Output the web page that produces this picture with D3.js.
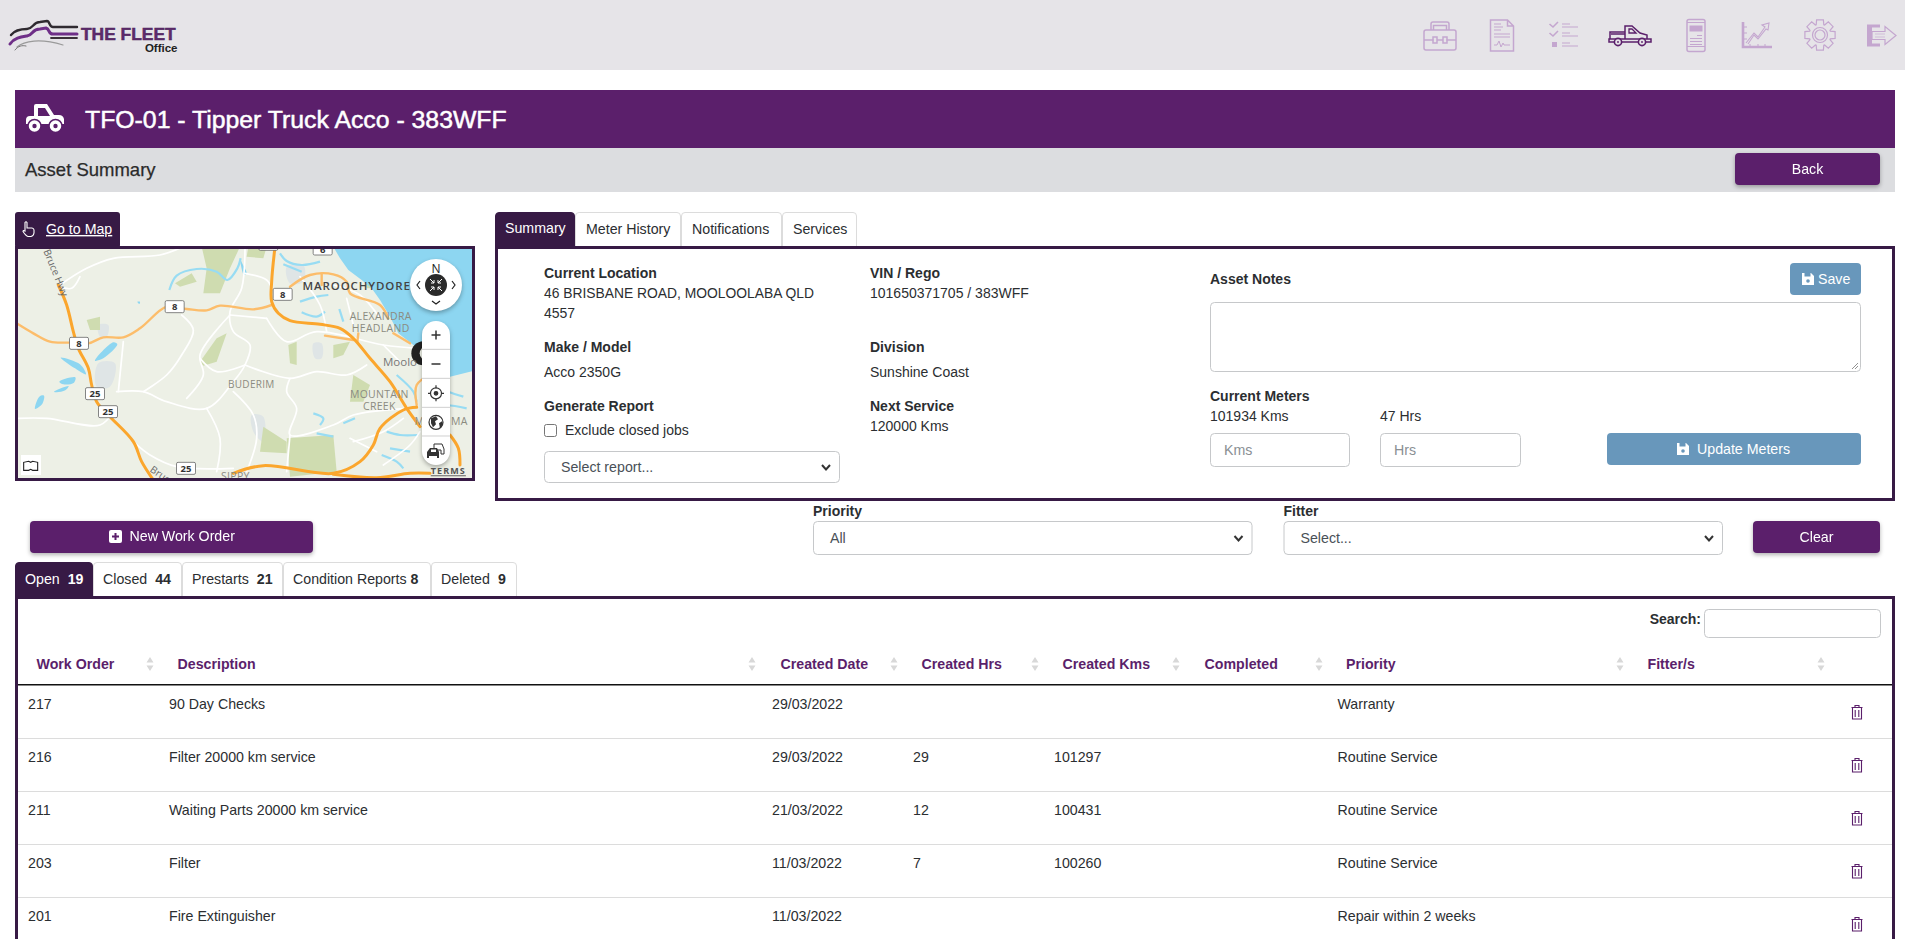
<!DOCTYPE html>
<html>
<head>
<meta charset="utf-8">
<title>The Fleet Office</title>
<script src="https://cdn.jsdelivr.net/npm/d3@7/dist/d3.min.js"></script>
<style>
  html, body { margin: 0; padding: 0; background: #fff; overflow: hidden; }
  svg { display: block; font-family: "Liberation Sans", Arial, sans-serif; }
  .shadow { filter: drop-shadow(0 2px 2px rgba(0,0,0,.3)); }
</style>
</head>
<body>
<svg id="page" width="1905" height="939"></svg>
<script>
// ---- data ----
const assetTitle = 'TFO-01 - Tipper Truck Acco - 383WFF'
const summaryTabs = ['Summary', 'Meter History', 'Notifications', 'Services']
const jobTabs = ['Open', 'Closed', 'Prestarts', 'Condition Reports', 'Deleted']
const jobCounts = [19, 44, 21, 8, 9]
const columns = ['Work Order', 'Description', 'Created Date', 'Created Hrs', 'Created Kms', 'Completed', 'Priority', 'Fitter/s']
const workOrders = ['217', '216', '211', '203', '201']
const descriptions = ['90 Day Checks', 'Filter 20000 km service', 'Waiting Parts 20000 km service', 'Filter', 'Fire Extinguisher']
const createdDates = ['29/03/2022', '29/03/2022', '21/03/2022', '11/03/2022', '11/03/2022']
const createdHrs = ['', '29', '12', '7', '']
const createdKms = ['', '101297', '100431', '100260', '']
const priorities = ['Warranty', 'Routine Service', 'Routine Service', 'Routine Service', 'Repair within 2 weeks']

// map geometry, in map units
const waterArea = [[1000,125],[1020,160],[1045,195],[1085,225],[1115,250],[1140,285],[1170,335],[1195,385],[1240,420],[1300,480],[1350,515],[1420,498],[1420,125]]
const motorways = [
  [[825,125],[815,230],[815,290],[835,325],[870,347],[960,358],[1020,370],[1060,400],[1110,460],[1170,530],[1220,610],[1260,665]],
  [[175,240],[200,300],[220,380],[235,430],[265,490],[275,540],[290,590],[330,635],[400,710],[425,770],[460,825]],
  [[700,805],[790,782],[1000,805],[1080,770],[1120,720],[1140,670],[1210,615],[1250,607]],
  [[1000,808],[1130,818],[1230,805],[1290,805]],
  [[1350,690],[1375,730],[1380,780]]
]
const mainRoads = [
  [[50,355],[100,385],[150,410],[210,413],[265,415],[310,397],[370,397],[420,370],[500,305],[560,312],[620,316],[660,302],[760,313],[815,300]],
  [[870,245],[930,210],[1000,208],[1040,230],[1050,265],[1140,300],[1165,340]],
  [[965,205],[965,240]],
  [[975,392],[1060,405]],
  [[1180,385],[1230,415]],
  [[1250,600],[1250,540],[1290,510]],
  [[1075,385],[1072,410]]
]
const localRoads = [
  [[735,125],[725,250],[690,320],[700,380],[750,420],[735,480],[700,530],[620,610],[500,590],[430,560],[350,560]],
  [[370,410],[355,560]],
  [[690,330],[600,450],[610,510],[560,580]],
  [[700,560],[760,630],[770,700],[740,800]],
  [[735,480],[870,520],[950,500],[1040,510],[1100,480]],
  [[870,520],[860,560],[890,610],[870,690],[1000,660],[1060,630],[1220,610]],
  [[620,610],[660,700],[650,800]],
  [[800,340],[860,410],[950,380],[1150,420],[1250,430]],
  [[180,240],[260,190],[340,160],[480,150],[550,125]],
  [[400,710],[450,750],[530,785],[700,790]],
  [[50,640],[140,640],[300,660],[340,620]],
  [[690,330],[800,340]],
  [[870,690],[860,800]],
  [[1060,710],[1150,680],[1210,640]],
  [[1150,780],[1230,720],[1260,680]],
  [[545,330],[580,375],[545,450],[500,510],[430,560]],
  [[735,205],[800,225],[815,250]],
  [[600,460],[650,500],[735,480]],
  [[900,215],[960,300],[980,380]],
  [[1040,280],[1060,360]],
  [[1000,240],[1080,270],[1140,340]],
  [[1150,420],[1200,470]],
  [[1050,700],[1130,740]],
  [[240,215],[215,250],[180,245]]
]
const parkAreas = [
  [[605,125],[720,125],[690,190],[660,265],[610,265],[620,190]],
  [[745,125],[800,125],[790,160],[740,155]],
  [[780,740],[790,665],[860,710],[860,745]],
  [[860,700],[1000,690],[1010,800],[870,815]],
  [[600,470],[650,400],[680,385],[650,470],[610,482]],
  [[1060,510],[1110,540],[1090,590],[1050,590]],
  [[865,420],[890,410],[890,480],[870,475]],
  [[260,345],[300,335],[300,375],[270,375]],
  [[1090,195],[1130,195],[1145,250],[1100,250]],
  [[1040,125],[1090,160],[1050,185]],
  [[525,235],[575,205],[590,230],[540,245]],
  [[1000,420],[1050,410],[1030,450],[1000,460]]
]
const lakes = [
  [[105,612],[118,575],[132,572],[126,598]],
  [[285,467],[340,412],[352,418],[310,460]],
  [[182,458],[240,478],[258,508],[225,490]],
  [[178,530],[226,517],[222,533],[190,538]],
  [[162,560],[206,543],[196,556],[170,562]],
  [[412,290],[420,290],[418,297]],
  [[720,160],[728,178],[740,205],[732,210]]
]
const waterways = [
  [[508,255],[530,212],[590,192],[650,200],[682,225],[712,190],[722,160]],
  [[840,145],[860,168],[905,180],[960,170]],
  [[850,178],[905,200]],
  [[900,290],[950,275],[985,270]],
  [[905,322],[950,335],[975,320]],
  [[1018,312],[1030,350]],
  [[1190,510],[1240,560],[1250,590]],
  [[1300,540],[1345,560],[1390,575]],
  [[1290,600],[1340,600],[1400,610]],
  [[1160,680],[1200,690],[1255,690]],
  [[1170,730],[1230,740]],
  [[1145,750],[1190,770],[1210,790]],
  [[1030,655],[1065,640]],
  [[950,685],[1000,695]],
  [[940,625],[970,640],[960,660]]
]
const builtAreas = [
  [[860,185],[910,180],[910,230],[870,235]],
  [[295,475],[345,475],[330,545],[290,545]],
  [[755,630],[790,635],[790,710],[760,680]],
  [[295,360],[325,360],[320,395],[300,395]],
  [[940,415],[965,415],[965,460],[945,460]]
]
const roadShields = [['8',524,305],['8',848,268],['8',237,415],['25',285,566],['25',324,620],['25',558,790],['6',968,132],['',805,118]]
const placeNames = [
  ['MAROOCHYDORE',1070,254,11.5,'#444',600,.9],
  ['ALEXANDRA',1142,345,10.5,'#8b8b80',400,.3],
  ['HEADLAND',1142,381,10.5,'#8b8b80',400,.3],
  ['Moolo',1200,484,11.5,'#777',400,0],
  ['BUDERIM',754,549,10,'#8b8b80',400,.3],
  ['MOUNTAIN',1138,578,10.5,'#8b8b80',400,.3],
  ['CREEK',1138,615,10.5,'#8b8b80',400,.3],
  ['MA',1378,660,10.5,'#8b8b80',400,.3],
  ['M',1258,660,10.5,'#8b8b80',400,.3],
  ['SIPPY',706,824,10.5,'#8b8b80',400,.3]
]

// ---- shared ----
const purple = '#5b1f6b'
const darkPurple = '#371a45'
const iconPurple = '#c4a6cf'
const textColor = '#2b2e31'
const fontSize = 14.2
const svg = d3.select('#page')

function box(parent, x, y, w, h, fill, r) {
  return parent.append('rect').attr('x', x).attr('y', y).attr('width', w).attr('height', h)
    .attr('fill', fill).attr('rx', r || 0)
}
function label(parent, str, x, y, size, color, weight, anchor) {
  return parent.append('text').attr('x', x).attr('y', y).attr('dy', '.35em')
    .attr('font-size', size).attr('fill', color || textColor)
    .attr('font-weight', weight || 400).attr('text-anchor', anchor || 'start').text(str)
}
function field(x, y, w, h, hint) {
  box(svg, x + .5, y + .5, w - 1, h - 1, '#fff', 4).attr('stroke', '#c6c8ca')
  if (hint) label(svg, hint, x + 14, y + h / 2, fontSize, '#8a8f94')
}
function chevron(x, y) {
  svg.append('path').attr('d', `M${x - 4},${y - 2}l4,4.5l4,-4.5`).attr('fill', 'none')
    .attr('stroke', '#333').attr('stroke-width', 2)
}
function selectBox(x, y, w, h, text) {
  field(x, y, w, h)
  label(svg, text, x + 17, y + h / 2, fontSize, '#495057')
  chevron(x + w - 14, y + h / 2)
}
function disk(parent, x, y, color) {
  const g = parent.append('g').attr('transform', `translate(${x},${y})`)
  g.append('path').attr('d', 'M-6,-6h9l3,3v9h-12z').attr('fill', color)
  g.append('rect').attr('x', -3.5).attr('y', -6).attr('width', 6).attr('height', 3.5).attr('fill', '#6897bb')
  g.append('circle').attr('cy', 2).attr('r', 1.8).attr('fill', '#6897bb')
}
function button(x, y, w, h, fill, text, shadow) {
  const g = svg.append('g')
  if (shadow) g.attr('class', 'shadow')
  box(g, x, y, w, h, fill, 4)
  label(g, text, x + w / 2, y + h / 2, fontSize, '#fff', 400, 'middle')
  return g
}
function tabStrip(labels, edges, top, bottom, bold) {
  labels.forEach((t, i) => {
    const x0 = edges[i], x1 = edges[i + 1]
    const g = svg.append('g')
    const fill = i == 0 ? darkPurple : '#fff'
    g.append('path').attr('d', `M${x0 + .5},${bottom}V${top + 4}q0,-3.5 3.5,-3.5H${x1 - 4}q3.5,0 3.5,3.5V${bottom}`)
      .attr('fill', fill).attr('stroke', i == 0 ? darkPurple : '#dcdcdc')
    const color = i == 0 ? '#fff' : textColor
    const pad = i == 0 || bold ? 10 : 11
    const mid = (top + bottom) / 2 + (i == 0 && !bold ? -1 : 0)
    const t1 = label(g, t, x0 + pad, mid, fontSize, color)
    if (bold) {
      const w = t1.node().getComputedTextLength()
      label(g, bold[i], x0 + pad + w + (t.length > 10 ? 4 : 8), mid, fontSize, color, 700)
    }
  })
}

// ---- top bar ----
box(svg, 0, 0, 1905, 70, '#e6e4e8')

const defs = svg.append('defs')
defs.append('clipPath').attr('id', 'mapClip').append('rect').attr('x', 18).attr('y', 249).attr('width', 454).attr('height', 229)

const logo = svg.append('g').attr('fill', 'none').attr('stroke-linecap', 'round')
logo.append('path').attr('d', 'M11,35C15,30 20,29 27,29C33,29 33,22 40,22L47,21C50,21 49,27 53,27H77').attr('stroke', '#2f2a30').attr('stroke-width', 2.4)
logo.append('path').attr('d', 'M10,44C14,38 21,37 27,36C33,35 32,29 40,29L46,28C50,29 48,34 53,34H77').attr('stroke', '#6f2f88').attr('stroke-width', 3)
logo.append('path').attr('d', 'M51,38H77').attr('stroke', '#3a3038').attr('stroke-width', 1.8)
logo.append('path').attr('d', 'M17,47C24,41 40,38 63,45').attr('stroke', '#9a9a9a').attr('stroke-width', 1.2)
logo.append('path').attr('d', 'M15,50C18,46 22,45 26,46').attr('stroke', '#777').attr('stroke-width', 1)
label(svg, 'THE FLEET', 81, 34, 17.4, '#5f2a6e', 700).attr('stroke', '#4a2456').attr('stroke-width', .5)
label(svg, 'Office', 177.5, 47.5, 11.5, '#222', 700, 'end')

function navIcon(x, y, color) {
  return svg.append('g').attr('transform', `translate(${x},${y})`)
    .attr('fill', 'none').attr('stroke', color || iconPurple).attr('stroke-width', 1.5)
}
let ic = navIcon(1440, 37)
ic.append('rect').attr('x', -16).attr('y', -7).attr('width', 32).attr('height', 20).attr('rx', 2)
ic.append('path').attr('d', 'M-9,-7v-6q0,-2 2,-2h14q2,0 2,2v6M-6.5,-7v-4.5h13v4.5M-16,3h9.5M6.5,3h9.5M-3,3h6')
ic.append('rect').attr('x', -7).attr('y', 0).attr('width', 4).attr('height', 6)
ic.append('rect').attr('x', 3).attr('y', 0).attr('width', 4).attr('height', 6)
ic = navIcon(1502, 36)
ic.append('path').attr('d', 'M-11.5,-16h17l6,6v25h-23zM5.5,-16v6h6')
ic.append('path').attr('d', 'M-8,-12h7M-8,-9h9M-8,-6h7M-8,-2h16M-8,1h16').attr('stroke-width', 1)
ic.append('path').attr('d', 'M-8,9h3l2,-4l2,6l2,-4l1,2h6').attr('stroke-width', 1)
ic = navIcon(1564, 37)
ic.append('path').attr('d', 'M-14.5,-13l3.5,3l5,-5M-14.5,-4l3.5,3l5,-5').attr('stroke-width', 1.6)
ic.append('path').attr('d', 'M-2,-13h8M-2,-10h16M-2,-4h8M-2,-1h16M-2,6h8M-2,9h16').attr('stroke-width', 1)
ic.append('rect').attr('x', -12).attr('y', 5).attr('width', 5).attr('height', 5).attr('fill', iconPurple).attr('stroke', 'none')
ic = navIcon(1630, 36, purple)
ic.append('path').attr('d', 'M-21,3h42v3h-42zM-20,3v-7h15M-19,-2h14M-5,3V-10H2L10,-3L17,-1V3').attr('stroke-width', 1.5)
ic.append('path').attr('d', 'M-1,-7h3l4,4h-7z').attr('stroke-width', 1.3)
;[-12, 12].forEach(wx => {
  ic.append('circle').attr('cx', wx).attr('cy', 6).attr('r', 3.6).attr('fill', '#e6e4e8').attr('stroke-width', 1.6)
  ic.append('circle').attr('cx', wx).attr('cy', 6).attr('r', .9).attr('fill', purple).attr('stroke', 'none')
})
ic = navIcon(1696, 35.5)
ic.append('rect').attr('x', -9).attr('y', -16).attr('width', 18).attr('height', 32).attr('rx', 2)
ic.append('path').attr('d', 'M-9,-13h18M-9,11h18M-6,3h12M-6,6h12M-6,9h12M1,0h5').attr('stroke-width', 1)
ic.append('rect').attr('x', -6.5).attr('y', -10).attr('width', 13).attr('height', 6).attr('fill', iconPurple).attr('stroke', 'none')
ic = navIcon(1757, 35)
ic.append('path').attr('d', 'M-14,-13V12H15').attr('stroke-width', 2.6)
ic.append('path').attr('d', 'M-14,-8h4M-14,-2h4M-14,4h4M-7,12v-3M1,12v-3M8,12v-3').attr('stroke-width', 1)
ic.append('path').attr('d', 'M-11,8L-3,-2L1,2L8,-8L5,-10L12,-12L11,-5L9,-6L1,4L-3,0L-9,9').attr('stroke-width', 1.1)
ic = navIcon(1820, 35)
ic.append('path').attr('stroke-width', 1.2)
  .attr('d', d3.range(0, 8).map(i => {
    const a = i * Math.PI / 4, s = .22, p = (r, t) => `${(r * Math.sin(t)).toFixed(1)},${(-r * Math.cos(t)).toFixed(1)}`
    return `${i ? 'L' : 'M'}${p(11, a - s * 1.6)}L${p(15.5, a - s)}L${p(15.5, a + s)}L${p(11, a + s * 1.6)}`
  }).join('') + 'Z')
ic.append('circle').attr('r', 7.5).attr('stroke-width', 1.2)
ic.append('circle').attr('r', 5).attr('stroke-width', 1.2)
ic = navIcon(1881, 35.5)
ic.append('path').attr('d', 'M-1,-11H-14V11H-1V8H-9V-8H-1z').attr('fill', iconPurple).attr('stroke', 'none')
ic.append('path').attr('d', 'M-9,-4H4V-9L15,0L4,9V4H-9z').attr('stroke-width', 1.2)
ic.append('path').attr('d', 'M-6,-1.5H4M-6,1.5H4').attr('stroke-width', .6)

// ---- asset header ----
box(svg, 15, 90, 1880, 58, purple)
box(svg, 15, 148, 1880, 44, '#dcdde0')
const truck = svg.append('g').attr('transform', 'translate(45,118)').attr('fill', '#fff')
truck.append('path').attr('d', 'M-19,2q0,-4 4,-4h4v-10q0,-2 2,-2h11l7,11h5q4,0 5,4v5h-38z')
truck.append('path').attr('d', 'M-7,-10h7l5,8h-12z').attr('fill', purple)
;[-10.5, 10.5].forEach(wx => {
  truck.append('circle').attr('cx', wx).attr('cy', 8).attr('r', 6.5).attr('stroke', purple).attr('stroke-width', 1.5)
  truck.append('circle').attr('cx', wx).attr('cy', 8).attr('r', 2.2).attr('fill', purple)
})
label(svg, assetTitle, 85, 119.5, 24.8, '#fff', 400).attr('stroke', '#fff').attr('stroke-width', .5)
label(svg, 'Asset Summary', 25, 170, 18.5, '#2b2b2b', 400).attr('stroke', '#2b2b2b').attr('stroke-width', .25)
button(1735, 153, 145, 32, purple, 'Back', true)

// ---- map ----
const mapX = d3.scaleLinear().domain([0, 1500]).range([0, 500])
const mapY = d3.scaleLinear().domain([0, 870]).range([205, 495])
const roadLine = d3.line().x(d => mapX(d[0])).y(d => mapY(d[1])).curve(d3.curveCatmullRom.alpha(.5))
const areaLine = d3.line().x(d => mapX(d[0])).y(d => mapY(d[1])).curve(d3.curveCatmullRomClosed.alpha(.5))
const coastLine = d3.line().x(d => mapX(d[0])).y(d => mapY(d[1])).curve(d3.curveLinearClosed)

box(svg, 15, 212, 105, 36, darkPurple).attr('rx', 3)
const hand = svg.append('g').attr('transform', 'translate(28,229)').attr('fill', 'none').attr('stroke', '#fff').attr('stroke-width', 1.1)
hand.append('path').attr('d', 'M-3,1V-6.5q1,-1.5 2,0V-1h5q2,.5 2,2v3q-.5,3 -3,3.5h-3q-2,-.5 -5,-5q0,-1.5 2,-.5z')
label(svg, 'Go to Map', 46, 229, fontSize, '#fff').attr('text-decoration', 'underline')
box(svg, 15, 246, 460, 235, darkPurple)

const map = svg.append('g').attr('clip-path', 'url(#mapClip)')
box(map, 18, 249, 454, 229, '#edf0e6')
map.append('g').selectAll('path').data(builtAreas).join('path').attr('d', areaLine).attr('fill', '#dfe5e6')
map.append('g').selectAll('path').data(parkAreas).join('path').attr('d', coastLine).attr('fill', '#cfdcb0')
map.append('path').attr('d', coastLine(waterArea)).attr('fill', '#8dd6f1')
map.append('g').selectAll('path').data(lakes).join('path').attr('d', areaLine).attr('fill', '#8dd6f1')
map.append('g').attr('fill', 'none').selectAll('path').data(waterways).join('path')
  .attr('d', roadLine).attr('stroke', '#98dcf3').attr('stroke-width', 2.2)
const roadLayer = (data, color, width) => map.append('g').attr('fill', 'none').selectAll('path').data(data).join('path')
  .attr('d', roadLine).attr('stroke', color).attr('stroke-width', width).attr('stroke-linecap', 'round')
roadLayer(localRoads, '#fff', 1.7)
roadLayer(mainRoads, '#fcbd6b', 2.4)
roadLayer(motorways, '#fba62d', 3)

// the dark location pin sits under the zoom buttons
map.append('circle').attr('cx', mapX(1270)).attr('cy', mapY(445)).attr('r', 12).attr('fill', '#222')
map.append('circle').attr('cx', mapX(1280)).attr('cy', mapY(445)).attr('r', 7).attr('fill', '#edf0e6')

map.append('g').selectAll('text').data(placeNames).join('text')
  .attr('x', d => mapX(d[1])).attr('y', d => mapY(d[2])).attr('text-anchor', 'middle')
  .attr('font-size', d => d[3]).attr('fill', d => d[4]).attr('font-weight', d => d[5])
  .attr('letter-spacing', d => d[6]).attr('font-family', '"Open Sans", sans-serif').text(d => d[0])
map.append('text').attr('transform', `translate(${mapX(130)},${mapY(138)}) rotate(68)`)
  .attr('font-size', 10).attr('fill', '#666').attr('font-family', '"Open Sans", sans-serif').text('Bruce Hwy')
map.append('text').attr('transform', `translate(${mapX(448)},${mapY(798)}) rotate(35)`)
  .attr('font-size', 10).attr('fill', '#666').attr('font-family', '"Open Sans", sans-serif').text('Bruce')

const shield = map.append('g').selectAll('g').data(roadShields).join('g')
  .attr('transform', d => `translate(${mapX(d[1])},${mapY(d[2])})`)
shield.append('rect').attr('x', -9.5).attr('y', -6).attr('width', 19).attr('height', 12).attr('rx', 1.5)
  .attr('fill', '#fff').attr('stroke', '#666').attr('stroke-width', .8)
shield.append('text').attr('text-anchor', 'middle').attr('y', 3.6).attr('font-size', 9.5).attr('font-weight', 700)
  .attr('fill', '#333').attr('font-family', '"Open Sans", sans-serif').text(d => d[0])

// compass
const compass = map.append('g').attr('transform', `translate(${mapX(1308)},${mapY(240)})`)
compass.append('circle').attr('r', 26).attr('fill', '#fff').attr('class', 'shadow')
compass.append('circle').attr('r', 11).attr('fill', '#2a2a2a')
compass.append('path').attr('d', 'M-6,-6l4,4M6,-6l-4,4M-6,6l4,-4M6,6l-4,-4M-2,-5v3h-3M2,-5v3h3M-2,5v-3h-3M2,5v-3h3')
  .attr('stroke', '#fff').attr('stroke-width', 1).attr('fill', 'none')
compass.append('text').attr('y', -12).attr('text-anchor', 'middle').attr('font-size', 12).attr('fill', '#222').attr('font-family', '"Open Sans", sans-serif').text('N')
compass.append('path').attr('d', 'M-16,-4l-3,4l3,4M16,-4l3,4l-3,4M-4,16l4,3l4,-3').attr('fill', 'none').attr('stroke', '#222').attr('stroke-width', 1.2)

// zoom stack
const stack = map.append('g')
box(stack, mapX(1266), mapY(348), mapX(84), 144, '#fff', 14).attr('class', 'shadow')
stack.selectAll('line.sep').data([433, 520, 607, 693]).join('line').attr('class', 'sep')
  .attr('x1', mapX(1266)).attr('x2', mapX(1350)).attr('y1', d => mapY(d)).attr('y2', d => mapY(d))
  .attr('stroke', '#bbb').attr('stroke-width', .7)
const cx = mapX(1308)
stack.append('path').attr('d', `M${cx - 4.5},${mapY(390)}h9M${cx},${mapY(390) - 4.5}v9M${cx - 4.5},${mapY(477)}h9`)
  .attr('stroke', '#333').attr('stroke-width', 1.5)
const target = stack.append('g').attr('transform', `translate(${cx},${mapY(565)})`).attr('fill', 'none').attr('stroke', '#333').attr('stroke-width', 1.2)
target.append('circle').attr('r', 5.5)
target.append('circle').attr('r', 1.8).attr('fill', '#333')
target.append('path').attr('d', 'M0,-8v3M0,5v3M-8,0h3M5,0h3')
const globe = stack.append('g').attr('transform', `translate(${cx},${mapY(652)})`)
globe.append('circle').attr('r', 7).attr('fill', '#fff').attr('stroke', '#333').attr('stroke-width', 1.2)
globe.append('path').attr('d', 'M-5,-4l5,-2l2,3l-3,2l1,3l-3,3l-2,-4zM3,1l3,-2l1,3l-3,4z').attr('fill', '#333')
const cars = stack.append('g').attr('transform', `translate(${cx},${mapY(738)})`).attr('fill', '#333')
cars.append('path').attr('d', 'M-2,-7h8l2,5v5h-3v-4h-7z').attr('fill', 'none').attr('stroke', '#333')
cars.append('path').attr('d', 'M-6,-3h7l2,4v6h-2v-2h-8v2h-2v-6z')
cars.append('rect').attr('x', -5).attr('y', -1.5).attr('width', 5).attr('height', 2.5).attr('fill', '#fff')

box(map, mapX(63), mapY(750), 20, 20, '#fff')
map.append('path').attr('d', `M${mapX(92) - 7},${mapY(772)}v8h5l2,-1l2,1h5v-8l-5,-1l-2,1l-2,-1z`).attr('fill', 'none').attr('stroke', '#222').attr('stroke-width', 1.1)
map.append('text').attr('x', mapX(1345)).attr('y', mapY(808)).attr('text-anchor', 'middle').attr('font-size', 9).attr('font-weight', 700)
  .attr('fill', '#555').attr('letter-spacing', 1.1).attr('text-decoration', 'underline').attr('font-family', '"Open Sans", sans-serif').text('TERMS')

// ---- summary panel ----
tabStrip(summaryTabs, [495, 575, 681, 782, 857], 212, 246)
box(svg, 495, 246, 1400, 255, darkPurple)
box(svg, 498, 249, 1394, 249, '#fff')

const colA = 544, colB = 870
const summaryBold = [['Current Location', colA, 273], ['VIN / Rego', colB, 273], ['Make / Model', colA, 347], ['Division', colB, 347],
  ['Generate Report', colA, 406], ['Next Service', colB, 406], ['Asset Notes', 1210, 279], ['Current Meters', 1210, 396]]
const summaryPlain = [['4557', colA, 313], ['101650371705 / 383WFF', colB, 293],
  ['Acco 2350G', colA, 372], ['Sunshine Coast', colB, 372], ['Exclude closed jobs', 565, 430], ['120000 Kms', colB, 426],
  ['101934 Kms', 1210, 416], ['47 Hrs', 1380, 416]]
summaryBold.forEach(d => label(svg, d[0], d[1], d[2], 14, textColor, 700))
summaryPlain.forEach(d => label(svg, d[0], d[1], d[2], 14))
label(svg, '46 BRISBANE ROAD, MOOLOOLABA QLD', colA, 293, 13.85)
box(svg, 544.5, 424.5, 12, 12, '#fff', 2).attr('stroke', '#767676')
selectBox(544, 451, 296, 32, 'Select report...')

button(1790, 263, 71, 32, '#6897bb', '')
disk(svg, 1808, 279, '#fff')
label(svg, 'Save', 1818, 279, fontSize, '#fff')
field(1210, 302, 651, 70)
svg.append('path').attr('d', 'M1858,363l-6,6M1858,366l-3,3').attr('stroke', '#777').attr('stroke-width', .8)
field(1210, 433, 140, 34, 'Kms')
field(1380, 433, 141, 34, 'Hrs')
button(1607, 433, 254, 32, '#6897bb', '')
disk(svg, 1683, 449, '#fff')
label(svg, 'Update Meters', 1697, 449, fontSize, '#fff')

// ---- filter row ----
const newBtn = button(30, 521, 283, 32, purple, '', true)
box(newBtn, 109, 530, 13, 13, '#fff', 2)
newBtn.append('path').attr('d', 'M115.5,533v7M112,536.5h7').attr('stroke', purple).attr('stroke-width', 2)
label(newBtn, 'New Work Order', 129.5, 536.5, fontSize, '#fff')
label(svg, 'Priority', 813, 511, 14, textColor, 700)
selectBox(813, 521, 439.5, 34, 'All')
label(svg, 'Fitter', 1283.5, 511, 14, textColor, 700)
selectBox(1283.5, 521, 439.5, 34, 'Select...')
button(1753, 521, 127, 32, purple, 'Clear', true)

// ---- job table ----
tabStrip(jobTabs, [15, 93, 182, 283, 431, 517], 562, 596, jobCounts)
box(svg, 15, 596, 1880, 3, darkPurple)
box(svg, 15, 596, 3, 343, darkPurple)
box(svg, 1892, 596, 3, 343, darkPurple)

label(svg, 'Search:', 1701, 619, 14, textColor, 700, 'end')
field(1704, 609, 177, 29)

// header and cell positions come from the same column scale
const colX = d3.scaleOrdinal().domain(columns).range([28, 169, 772, 913, 1054, 1196, 1337.5, 1639])
const sortX = d3.scaleOrdinal().domain(columns).range([150, 752, 894, 1035, 1176, 1319, 1620, 1821])
const rowY = d3.scaleBand().domain(workOrders).range([685, 950])

const head = svg.append('g')
head.selectAll('text').data(columns).join('text')
  .attr('x', d => colX(d) + 8.5).attr('y', 664).attr('dy', '.35em').attr('font-size', fontSize)
  .attr('font-weight', 700).attr('fill', purple).text(d => d)
head.selectAll('path').data(columns).join('path')
  .attr('transform', d => `translate(${sortX(d)},664)`)
  .attr('d', 'M-3.5,-1.5L0,-7L3.5,-1.5zM-3.5,1.5L0,7L3.5,1.5z').attr('fill', '#d8d8d8')
box(svg, 18, 684, 1874, 1.5, '#111')

const rows = svg.append('g').selectAll('g').data(workOrders).join('g')
  .attr('transform', d => `translate(0,${rowY(d)})`)
const cellColumns = [[workOrders, 0], [descriptions, 1], [createdDates, 2], [createdHrs, 3], [createdKms, 4], [priorities, 6]]
cellColumns.forEach(([values, c]) => {
  rows.append('text').attr('x', colX(columns[c])).attr('y', 19).attr('dy', '.35em')
    .attr('font-size', fontSize).attr('fill', textColor).text((d, i) => values[i])
})
rows.filter((d, i) => i < workOrders.length - 1).append('rect').attr('x', 18).attr('y', rowY.bandwidth())
  .attr('width', 1874).attr('height', 1).attr('fill', '#dcdcdc')
const trash = rows.append('g').attr('transform', 'translate(1857,27)').attr('fill', 'none').attr('stroke', purple).attr('stroke-width', 1.1)
trash.append('path').attr('d', 'M-5.5,-4.5h11M-2,-4.5v-2h4v2M-4.5,-4.5v11.5h9v-11.5M-1.8,-2v7M1.8,-2v7')
</script>
</body>
</html>
